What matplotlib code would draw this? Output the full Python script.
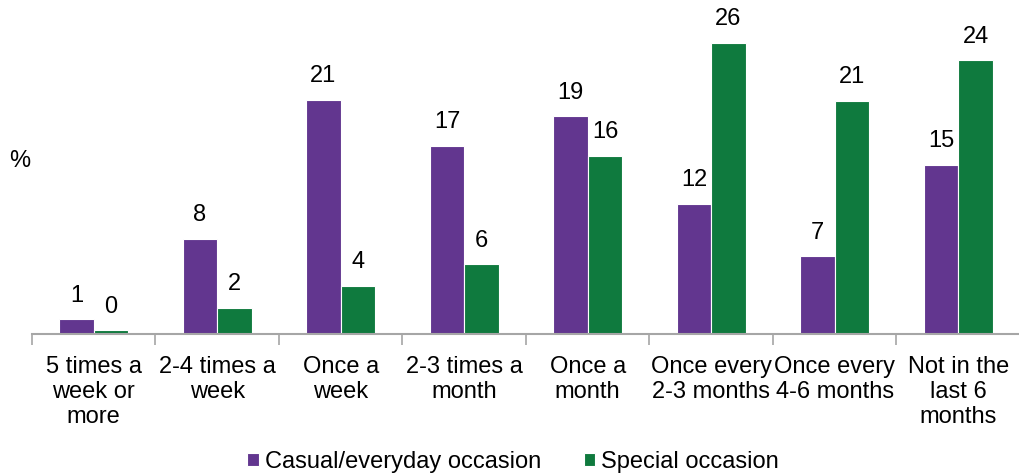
import numpy as np
import matplotlib
matplotlib.use("Agg")
import matplotlib.pyplot as plt

categories = [
    "5 times a\nweek or\nmore",
    "2-4 times a\nweek",
    "Once a\nweek",
    "2-3 times a\nmonth",
    "Once a\nmonth",
    "Once every\n2-3 months",
    "Once every\n4-6 months",
    "Not in the\nlast 6\nmonths",
]
casual = [1.3, 8.5, 20.9, 16.8, 19.4, 11.6, 6.9, 15.1]
special = [0.3, 2.3, 4.3, 6.2, 15.9, 26.0, 20.8, 24.4]
series_names = ["Casual/everyday occasion", "Special occasion"]

PURPLE = "#62368f"
GREEN = "#0f7a3e"
AXIS_GREY = "#a6a6a6"
FS = 17

plt.rcParams["font.family"] = ["Liberation Sans", "DejaVu Sans"]

fig = plt.figure(figsize=(10.19, 4.75), dpi=100)
ax = fig.add_axes([32 / 1019, (475 - 333.7) / 475, 988 / 1019, 333.7 / 475])

x = np.arange(len(categories))
w = 0.28
b1 = ax.bar(x - w / 2, casual, w, color=PURPLE, edgecolor="white", linewidth=0.8,
            label=series_names[0])
b2 = ax.bar(x + w / 2, special, w, color=GREEN, edgecolor="white", linewidth=0.8,
            label=series_names[1])

for bars in (b1, b2):
    ax.bar_label(bars, labels=[f"{v:.0f}" for v in bars.datavalues],
                 padding=9, fontsize=FS)

ax.set_xlim(-0.5, len(categories) - 0.5)
ax.set_ylim(0, 29.8)

# category labels centred, tick marks on the group boundaries
ax.set_xticks(x)
ax.set_xticklabels(categories, fontsize=FS, linespacing=1.17)
ax.tick_params(axis="x", length=0, pad=16)
ax.set_xticks(np.arange(len(categories) + 1) - 0.5, minor=True)
ax.tick_params(axis="x", which="minor", length=8, width=1.2, color=AXIS_GREY,
               direction="out")
ax.set_yticks([])

for side in ("left", "right", "top"):
    ax.spines[side].set_visible(False)
ax.spines["bottom"].set_color(AXIS_GREY)
ax.spines["bottom"].set_linewidth(1.5)

fig.text(9 / 1019, 1 - 161 / 475, "%", fontsize=FS, va="center", ha="left")

fig.legend(loc="center", bbox_to_anchor=(513 / 1019, 1 - 462 / 475), ncol=2,
           frameon=False, fontsize=FS, handlelength=0.5, handleheight=0.5,
           handletextpad=0.25, columnspacing=1.8)

fig.savefig("out.png", dpi=100)
